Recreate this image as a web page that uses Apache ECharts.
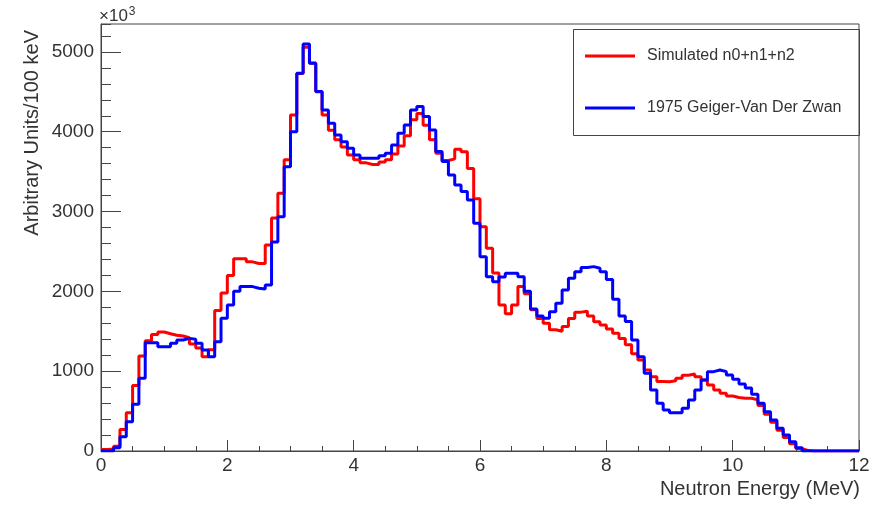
<!DOCTYPE html>
<html><head><meta charset="utf-8">
<script src="https://cdn.jsdelivr.net/npm/echarts@6/dist/echarts.min.js"></script>
<style>html,body{margin:0;padding:0;background:#fff}#c{width:879px;height:505px}</style>
</head><body><div id="c"></div>
<script>
// ---- data (100 keV bins, 0..12 MeV) ----
const binWidth = 0.1;
const xMin = 0, xMax = 12;
const yMin = 0, yMax = 5350;
const seriesNames = ['Simulated n0+n1+n2', '1975 Geiger-Van Der Zwan'];
const xTitle = 'Neutron Energy (MeV)';
const yTitle = 'Arbitrary Units/100 keV';
const yScaleNote = '\u00d710';
const yScaleExp = '3';

const simulated = [
  20, 25, 60, 270, 480, 820, 1190, 1380, 1460, 1490,
  1470, 1450, 1440, 1420, 1340, 1290, 1180, 1270, 1760, 1980,
  2200, 2410, 2410, 2370, 2350, 2350, 2580, 2920, 3230, 3650,
  4210, 4730, 5060, 4860, 4500, 4210, 4020, 3900, 3810, 3710,
  3650, 3610, 3590, 3590, 3620, 3650, 3720, 3820, 3950, 4150,
  4230, 4080, 3900, 3730, 3640, 3660, 3780, 3750, 3540, 3160,
  2810, 2540, 2230, 1830, 1720, 1830, 2060, 1970, 1770, 1660,
  1600, 1520, 1500, 1560, 1660, 1740, 1750, 1690, 1620, 1580,
  1530, 1475, 1410, 1330, 1220, 1140, 1015, 930, 870, 868,
  880, 910, 950, 965, 930, 890, 827, 764, 722, 690,
  670, 660, 660, 640, 570, 460, 360, 260, 170, 90,
  30, 5, 0, 0, 0, 0, 0, 0, 0, 0
];
const geiger = [
  0, 0, 40, 180, 368, 585, 911, 1357, 1357, 1307,
  1307, 1349, 1390, 1411, 1400, 1349, 1266, 1182, 1370, 1663,
  1830, 2000, 2060, 2060, 2040, 2030, 2080, 2620, 2936, 3563,
  4001, 4733, 5100, 4858, 4503, 4273, 4106, 3960, 3876, 3793,
  3709, 3667, 3667, 3667, 3700, 3730, 3835, 3980, 4085, 4273,
  4315, 4190, 4023, 3752, 3626, 3459, 3333, 3250, 3145, 2853,
  2435, 2184, 2121, 2180, 2226, 2226, 2184, 2000, 1780, 1690,
  1662, 1746, 1850, 2017, 2163, 2247, 2300, 2310, 2290, 2247,
  2150, 1900, 1690, 1621, 1391, 1182, 973, 764, 597, 513,
  480, 480, 535, 640, 764, 890, 994, 1015, 994, 952,
  900, 840, 790, 710, 597, 493, 389, 284, 200, 117,
  42, 0, 0, 0, 0, 0, 0, 0, 0, 0
];

function stepData(vals) {
  const d = vals.map((v, i) => [Math.round(i * binWidth * 1000) / 1000, v]);
  d.push([xMax, vals[vals.length - 1]]);
  return d;
}

const chart = echarts.init(document.getElementById('c'), null, {renderer: 'canvas'});
const font = 'Liberation Sans, Arial, sans-serif';
const txt = '#333';
const axisCol = '#444';

chart.setOption({
  animation: false,
  backgroundColor: '#fff',
  textStyle: {fontFamily: font},
  grid: {left: 101, right: 20, top: 24, bottom: 54, show: true, borderColor: axisCol, borderWidth: 1, backgroundColor: 'transparent'},
  xAxis: {
    type: 'value', min: xMin, max: xMax, interval: 2,
    axisLine: {show: true, lineStyle: {color: axisCol, width: 1}},
    axisTick: {show: true, inside: true, length: 11, lineStyle: {color: axisCol}},
    minorTick: {show: true, splitNumber: 4, length: 5, lineStyle: {color: axisCol}},
    axisLabel: {fontSize: 19, color: txt, margin: 5, fontFamily: font},
    splitLine: {show: false}
  },
  yAxis: [{
    type: 'value', min: yMin, max: yMax, interval: 1000,
    axisLine: {show: true, lineStyle: {color: axisCol, width: 1}},
    axisTick: {show: true, inside: true, length: 20, lineStyle: {color: axisCol}},
    axisLabel: {fontSize: 19, color: txt, margin: 7, fontFamily: font, showMaxLabel: false,
      formatter: v => (v % 1000 === 0 ? String(v) : '')},
    splitLine: {show: false}
  }, {
    type: 'value', min: yMin, max: yMax, interval: 200, position: 'left',
    axisLine: {show: false},
    axisTick: {show: true, inside: true, length: 10, lineStyle: {color: axisCol}},
    axisLabel: {show: false},
    splitLine: {show: false}
  }],
  legend: {
    orient: 'vertical', left: 585, top: 46, padding: 0,
    itemWidth: 50, itemHeight: 3, itemGap: 32, icon: 'rect',
    textStyle: {fontSize: 16, color: txt, fontFamily: font, lineHeight: 20, padding: [0, 0, 0, 7]},
    data: seriesNames
  },
  series: [{
    name: seriesNames[0], type: 'line', step: 'end', yAxisIndex: 0,
    data: stepData(simulated), showSymbol: false, symbol: 'none',
    lineStyle: {color: '#ff0000', width: 3}, itemStyle: {color: '#ff0000'}, z: 2
  }, {
    name: seriesNames[1], type: 'line', step: 'end', yAxisIndex: 0,
    data: stepData(geiger), showSymbol: false, symbol: 'none',
    lineStyle: {color: '#0000ff', width: 3}, itemStyle: {color: '#0000ff'}, z: 3
  }],
  graphic: [
    {type: 'rect', left: 573, top: 29, shape: {width: 286, height: 106}, style: {fill: 'rgba(0,0,0,0)', stroke: axisCol, lineWidth: 1}, z: 1},
    {type: 'text', x: 32, y: 30, rotation: Math.PI / 2,
      style: {text: yTitle, fontSize: 20, fill: txt, fontFamily: font, textAlign: 'right', textVerticalAlign: 'middle'}},
    {type: 'text', x: 860, y: 489,
      style: {text: xTitle, fontSize: 20, fill: txt, fontFamily: font, textAlign: 'right', textVerticalAlign: 'middle'}},
    {type: 'text', x: 99, y: 16,
      style: {text: yScaleNote + '{s|' + yScaleExp + '}', fontSize: 17, fill: txt, fontFamily: font, textAlign: 'left', textVerticalAlign: 'middle',
        rich: {s: {fontSize: 12, fill: txt, fontFamily: font, verticalAlign: 'top', padding: [0, 0, 8, 1]}}}}
  ]
});
</script>
</body></html>
